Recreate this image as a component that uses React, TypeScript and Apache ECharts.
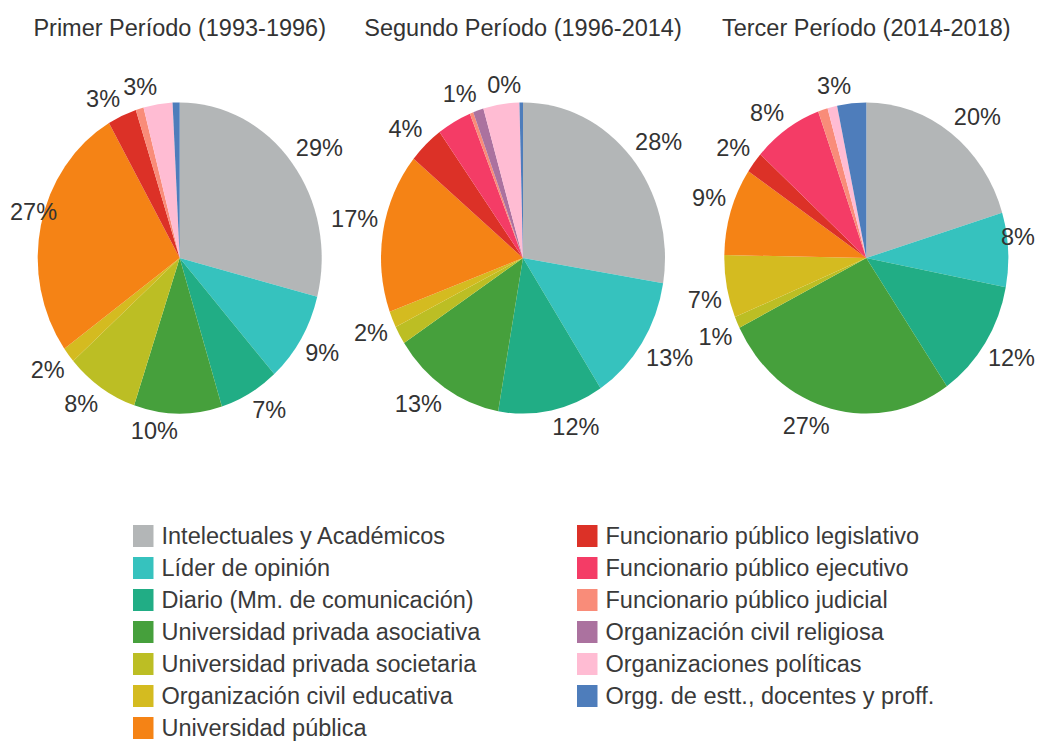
import React, { useEffect, useRef } from 'react';
import * as echarts from 'echarts';

const categories = [
  'Intelectuales y Académicos',
  'Líder de opinión',
  'Diario (Mm. de comunicación)',
  'Universidad privada asociativa',
  'Universidad privada societaria',
  'Organización civil educativa',
  'Universidad pública',
  'Funcionario público legislativo',
  'Funcionario público ejecutivo',
  'Funcionario público judicial',
  'Organización civil religiosa',
  'Organizaciones políticas',
  'Orgg. de estt., docentes y proff.',
];

const colors = [
  '#b3b6b7', '#36c2be', '#21ad85', '#46a03c', '#bcbe24', '#d4bb20', '#f58315',
  '#dc3127', '#f43c66', '#f98c79', '#ab729f', '#ffbcd3', '#4e7dbb',
];

const periodTitles = [
  'Primer Período (1993-1996)',
  'Segundo Período (1996-2014)',
  'Tercer Período (2014-2018)',
];

const primerValues = [29.0, 9.4, 6.8, 10.0, 8.3, 1.6, 26.6, 3.3, 0, 0.9, 0, 3.3, 0.8];
const segundoValues = [27.6, 13.2, 12.0, 13.0, 1.9, 1.7, 16.6, 4.0, 3.9, 0.4, 1.2, 4.1, 0.4];
const tercerValues = [20.3, 7.7, 12.4, 27.2, 1.2, 6.5, 9.1, 2.2, 7.9, 1.1, 0, 1.1, 3.3];

const primerLabelShown = [1, 1, 1, 1, 1, 1, 1, 1, 0, 0, 0, 1, 0];
const segundoLabelShown = [1, 1, 1, 1, 0, 1, 1, 1, 0, 0, 1, 0, 1];
const tercerLabelShown = [1, 1, 1, 1, 1, 1, 1, 1, 1, 0, 0, 0, 1];

const seriesValues = [primerValues, segundoValues, tercerValues];
const seriesLabels = [primerLabelShown, segundoLabelShown, tercerLabelShown];

// layout (real pixels)
const W = 1038;
const H = 741;
const K = 0.9126; // horizontal squash of the pies
const R = 155.6; // vertical radius
const CY = 258;
const centersX = [179.7, 523, 866.3];
const GAP = 5;
const FONT = "'Liberation Sans', Arial, Helvetica, sans-serif";
const TEXT_COLOR = '#333333';

export default function App() {
  const pieRef = useRef<HTMLDivElement>(null);
  const topRef = useRef<HTMLDivElement>(null);

  useEffect(() => {
    if (!pieRef.current || !topRef.current) return;
    const pieChart = echarts.init(pieRef.current, null, { renderer: 'svg' });
    const topChart = echarts.init(topRef.current, null, { renderer: 'svg' });

    pieChart.setOption({
      animation: false,
      color: colors,
      series: seriesValues.map((vals, i) => ({
        type: 'pie',
        center: [centersX[i] / K, CY],
        radius: R,
        startAngle: 90,
        clockwise: true,
        silent: true,
        emphasis: { disabled: true },
        label: { show: false },
        labelLine: { show: false },
        itemStyle: { borderWidth: 0 },
        data: categories.map((name, j) => ({ name, value: vals[j] })),
      })),
    });

    // place each label outside the (squashed) pie, anchored by the corner
    // nearest to the slice's edge point
    const makeLayout = (cx: number) => (p: any) => {
      const r = p.labelRect;
      const lx = r.x + r.width / 2;
      const ly = r.y + r.height / 2;
      let dx = lx - cx;
      let dy = ly - CY;
      const len = Math.hypot(dx, dy) || 1;
      dx /= len;
      dy /= len;
      const ex = cx + dx * R * K;
      const ey = CY + dy * R;
      const w = r.width / 2;
      const h = r.height / 2;
      let x = ex + dx * GAP + (dx >= 0 ? w : -w);
      const y = ey + dy * GAP + (dy >= 0 ? h : -h);
      x = Math.max(10 + w, Math.min(W - 3 - w, x));
      return { x, y, align: 'center', verticalAlign: 'middle' };
    };

    const legendBase = {
      orient: 'vertical',
      top: 524,
      height: 240,
      padding: 0,
      itemWidth: 20.5,
      itemHeight: 22,
      itemGap: 8,
      icon: 'rect',
      selectedMode: false,
      textStyle: {
        fontSize: 23.5,
        lineHeight: 24,
        color: '#3a3a3a',
        fontFamily: FONT,
        padding: [0, 0, 0, 3],
      },
    };

    topChart.setOption({
      animation: false,
      textStyle: { fontFamily: FONT },
      graphic: periodTitles.map((t, i) => ({
        type: 'text',
        x: centersX[i],
        y: 28,
        silent: true,
        style: {
          text: t,
          fill: '#333333',
          fontSize: 23.5,
          fontFamily: FONT,
          align: 'center',
          verticalAlign: 'middle',
          textAlign: 'center',
          textVerticalAlign: 'middle',
        },
      })),
      legend: [
        {
          ...legendBase,
          left: 133,
          data: categories.slice(0, 7).map((name, j) => ({ name, itemStyle: { color: colors[j] } })),
        },
        {
          ...legendBase,
          left: 577,
          data: categories.slice(7).map((name, j) => ({ name, itemStyle: { color: colors[j + 7] } })),
        },
      ],
      series: seriesValues.map((vals, i) => ({
        type: 'pie',
        center: [centersX[i], CY],
        radius: R,
        startAngle: 90,
        clockwise: true,
        silent: true,
        emphasis: { disabled: true },
        itemStyle: { color: 'rgba(0,0,0,0)', borderWidth: 0 },
        label: {
          show: true,
          position: 'inside',
          fontSize: 23.5,
          fontFamily: FONT,
          color: TEXT_COLOR,
          formatter: (p: any) => Math.round(p.percent) + '%',
        },
        labelLine: { show: false },
        labelLayout: makeLayout(centersX[i]),
        data: categories.map((name, j) => ({
          name,
          value: vals[j],
          label: { show: seriesLabels[i][j] === 1 },
        })),
      })),
    });

    return () => {
      pieChart.dispose();
      topChart.dispose();
    };
  }, []);

  return (
    <div
      style={{
        position: 'fixed',
        left: 0,
        top: 0,
        width: W,
        height: H,
        overflow: 'hidden',
        background: '#ffffff',
      }}
    >
      <div
        ref={pieRef}
        style={{
          position: 'absolute',
          left: 0,
          top: 0,
          width: W / K,
          height: H,
          transform: `scaleX(${K})`,
          transformOrigin: '0 0',
        }}
      />
      <div
        ref={topRef}
        style={{ position: 'absolute', left: 0, top: 0, width: W, height: H }}
      />
    </div>
  );
}
